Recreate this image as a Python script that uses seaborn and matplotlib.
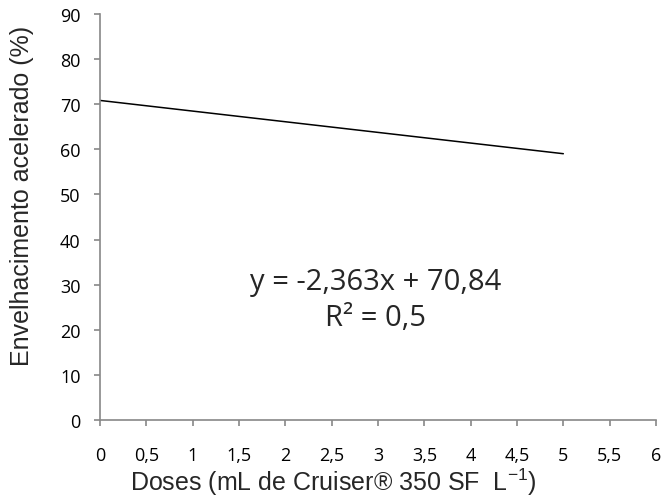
import matplotlib
matplotlib.use("Agg")
import matplotlib.pyplot as plt
import seaborn as sns
import pandas as pd

# Data
doses = [0, 5]
envelhecimento = [70.84, 59.03]
x_ticks = [0, 0.5, 1, 1.5, 2, 2.5, 3, 3.5, 4, 4.5, 5, 5.5, 6]
y_ticks = [0, 10, 20, 30, 40, 50, 60, 70, 80, 90]
equation = "y = -2,363x + 70,84"
r2 = "R² = 0,5"

sns.set_theme(style="white")
plt.rcParams['font.family'] = ['Liberation Sans', 'DejaVu Sans']
plt.rcParams['mathtext.default'] = 'regular'

fig = plt.figure(figsize=(6.65, 5.02), dpi=100)
ax = fig.add_axes([100/665, 81/502, 556/665, 406/502])

df = pd.DataFrame({"x": doses, "y": envelhecimento})
sns.lineplot(data=df, x="x", y="y", ax=ax, color="black", linewidth=1.1)

ax.set_xlim(0, 6)
ax.set_ylim(0, 90)
ax.set_xticks(x_ticks)
ax.set_yticks(y_ticks)
ax.set_xticklabels([f"{v:g}".replace(".", ",") for v in x_ticks], family="Open Sans", fontsize=13)
ax.set_yticklabels([str(v) for v in y_ticks], family="Open Sans", fontsize=13)

for s in ["top", "right"]:
    ax.spines[s].set_visible(False)
for s in ["left", "bottom"]:
    ax.spines[s].set_color("#888888")
    ax.spines[s].set_linewidth(1.2)

ax.tick_params(axis="x", direction="out", length=4, width=1.2, color="#888888", pad=15, labelcolor="black", bottom=True)
ax.tick_params(axis="y", direction="out", length=4, width=1.2, color="#888888", pad=10, labelcolor="black", left=True)

ax.set_xlabel("Doses (mL de Cruiser® 350 SF  L$^{-1}$)", fontsize=18)
ax.set_ylabel("Envelhacimento acelerado (%)", fontsize=18)
ax.xaxis.set_label_coords(0.42, -0.112)
ax.yaxis.set_label_coords(-0.118, 0.554)

ax.text(2.97, 30.8, equation, family="Open Sans", fontsize=21, ha="center", va="center")
ax.text(2.97, 22.8, r2, family="Open Sans", fontsize=21, ha="center", va="center")

fig.savefig("out.png", dpi=100)
